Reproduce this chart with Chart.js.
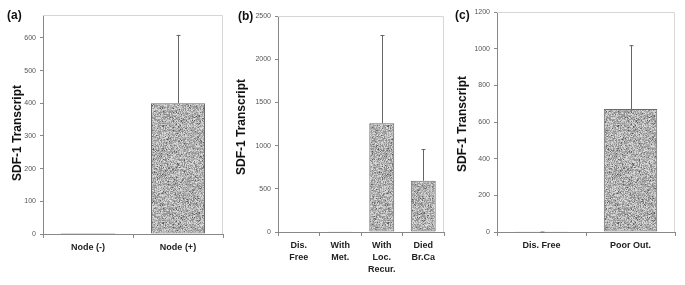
<!DOCTYPE html>
<html>
<head>
<meta charset="utf-8">
<script src="https://cdn.jsdelivr.net/npm/chart.js@4.4.1/dist/chart.umd.min.js"></script>
<style>
  body { margin: 0; background: #fff; }
  #wrap { position: relative; width: 685px; height: 285px; overflow: hidden; font-family: "Liberation Sans", Arial, sans-serif; }
  .panel { position: absolute; top: 0; width: 230px; height: 285px; }
  .tag { position: absolute; font-weight: bold; font-size: 12px; color: #111; }
</style>
</head>
<body>
<div id="wrap">
  <div class="panel" style="left:0px"><canvas id="chartA" width="230" height="285"></canvas></div>
  <div class="panel" style="left:225px"><canvas id="chartB" width="230" height="285"></canvas></div>
  <div class="panel" style="left:455px"><canvas id="chartC" width="230" height="285"></canvas></div>
  <div class="tag" style="left:7px;top:8px">(a)</div>
  <div class="tag" style="left:238px;top:9px">(b)</div>
  <div class="tag" style="left:455px;top:8px">(c)</div>
</div>
<script>
// panel (a) - lymph node status
const labelsA = ["Node (-)", "Node (+)"];
const valuesA = [3, 400];
const errorsA = [0, 209];

// panel (b) - outcome groups
const labelsB = [["Dis.", "Free"], ["With", "Met."], ["With", "Loc.", "Recur."], ["Died", "Br.Ca"]];
const valuesB = [0, 10, 1260, 593];
const errorsB = [0, 0, 1020, 367];

// panel (c) - good vs poor outcome
const labelsC = ["Dis. Free", "Poor Out."];
const valuesC = [1, 671];
const errorsC = [1, 348];

const yTitle = "SDF-1 Transcript";
const FONT = "'Liberation Sans', Arial, sans-serif";

// speckled grey fill like the original bars
function makeSpeckle() {
  const c = document.createElement("canvas");
  c.width = 97; c.height = 97;
  const g = c.getContext("2d");
  const img = g.createImageData(97, 97);
  let seed = 12345;
  const next = () => {
    seed = (seed * 1103515245 + 12345) % 2147483648;
    return seed / 2147483648;
  };
  for (let i = 0; i < img.data.length; i += 4) {
    let v = 140 + Math.floor(next() * 85);
    if (next() < 0.12) v -= 55;
    img.data[i] = v; img.data[i + 1] = v; img.data[i + 2] = v; img.data[i + 3] = 255;
  }
  g.putImageData(img, 0, 0);
  return g.createPattern(c, "repeat");
}
const speckle = makeSpeckle();

// upper error bars + light frame + rotated y title
const extras = {
  id: "extras",
  afterDatasetsDraw(chart, args, opts) {
    const ctx = chart.ctx;
    const area = chart.chartArea;
    const y = chart.scales.y;
    const meta = chart.getDatasetMeta(0);
    const errs = opts.errors;
    ctx.save();
    ctx.strokeStyle = "#d6d6d6";
    ctx.lineWidth = 1;
    ctx.beginPath();
    ctx.moveTo(area.left, area.top + 0.5);
    ctx.lineTo(area.right - 0.5, area.top + 0.5);
    ctx.lineTo(area.right - 0.5, area.bottom);
    ctx.stroke();

    ctx.strokeStyle = "#666";
    meta.data.forEach((bar, i) => {
      if (!errs[i]) return;
      const v = chart.data.datasets[0].data[i];
      const top = y.getPixelForValue(v + errs[i]);
      const x = Math.round(bar.x) + 0.5;
      ctx.beginPath();
      ctx.moveTo(x, bar.y);
      ctx.lineTo(x, top);
      ctx.moveTo(x - 2, top + 0.5);
      ctx.lineTo(x + 2, top + 0.5);
      ctx.stroke();
    });

    ctx.translate(opts.titleX, opts.titleY);
    ctx.rotate(-Math.PI / 2);
    ctx.fillStyle = "#111";
    ctx.font = "bold 12px " + FONT;
    ctx.textAlign = "center";
    ctx.textBaseline = "middle";
    ctx.fillText(yTitle, 0, 0);
    ctx.restore();
  }
};

function makePanel(id, labels, values, errors, yMax, step, box) {
  new Chart(document.getElementById(id), {
    type: "bar",
    data: {
      labels: labels,
      datasets: [{
        data: values,
        backgroundColor: speckle,
        borderColor: "#6a6a6a",
        borderWidth: 1,
        borderSkipped: false,
        barPercentage: 0.6,
        categoryPercentage: 1
      }]
    },
    options: {
      responsive: false,
      animation: false,
      events: [],
      layout: { padding: { top: box.top, right: 230 - box.right, left: 0, bottom: 0 } },
      plugins: {
        legend: { display: false },
        tooltip: { enabled: false },
        extras: { errors: errors, titleX: box.titleX, titleY: box.titleY }
      },
      scales: {
        x: {
          afterFit: s => { s.height = 285 - box.bottom; },
          border: { color: "#888" },
          grid: { drawOnChartArea: false, tickLength: 4, color: "#888" },
          ticks: {
            color: "#222", padding: 4, maxRotation: 0, autoSkip: false,
            font: { family: FONT, size: 9, weight: "bold", lineHeight: 1.3 }
          }
        },
        y: {
          min: 0, max: yMax,
          afterFit: s => { s.width = box.left; },
          border: { color: "#888" },
          grid: { drawOnChartArea: false, tickLength: 3, color: "#888" },
          ticks: {
            stepSize: step, includeBounds: false, color: "#555", padding: 4,
            font: { family: FONT, size: 7 },
            callback: v => String(v)
          }
        }
      }
    },
    plugins: [extras]
  });
}

makePanel("chartA", labelsA, valuesA, errorsA, 670, 100,
  { left: 43, right: 223, top: 15, bottom: 234, titleX: 18, titleY: 133 });
makePanel("chartB", labelsB, valuesB, errorsB, 2500, 500,
  { left: 53, right: 219, top: 16, bottom: 232, titleX: 17, titleY: 127 });
makePanel("chartC", labelsC, valuesC, errorsC, 1200, 200,
  { left: 42, right: 220, top: 12, bottom: 232, titleX: 8, titleY: 124 });
</script>
</body>
</html>
